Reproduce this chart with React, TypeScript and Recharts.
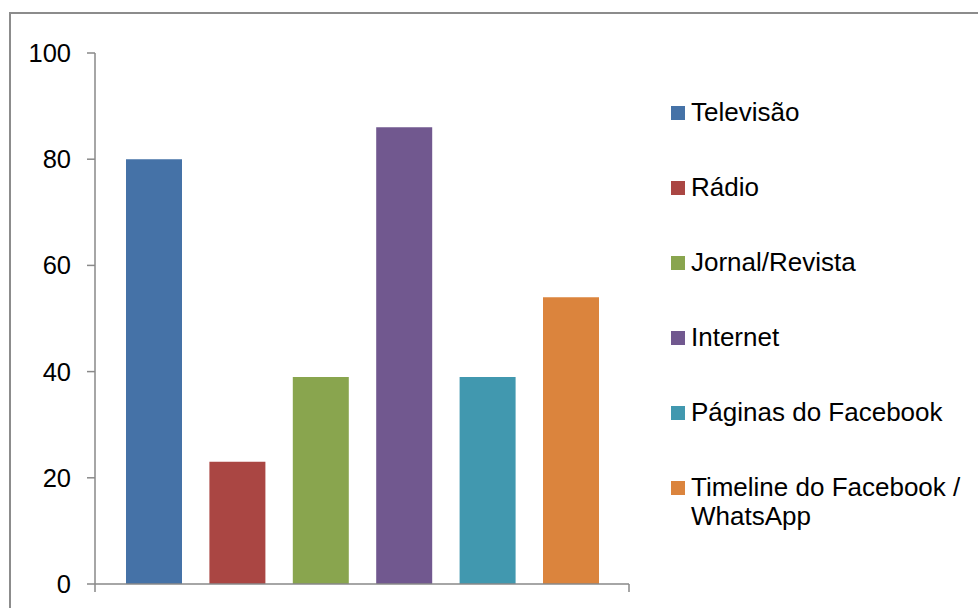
import { BarChart, Bar, XAxis, YAxis, Legend } from 'recharts';

const seriesNames = [
  'Televisão',
  'Rádio',
  'Jornal/Revista',
  'Internet',
  'Páginas do Facebook',
  'Timeline do Facebook / WhatsApp',
];
const seriesValues = [80, 23, 39, 86, 39, 54];
const seriesColors = ['#4572A7', '#AA4643', '#89A54E', '#71588F', '#4198AF', '#DB843D'];
const yTicks = [0, 20, 40, 60, 80, 100];

const row: Record<string, string | number> = { name: '' };
seriesNames.forEach((_, i) => {
  row[`s${i}`] = seriesValues[i];
});
const chartData = [row];

const axisColor = '#898989';
const font = '"Liberation Sans", Arial, sans-serif';

// Excel-style marks at both ends of the single category band
function EdgeTicks(props: any) {
  const { x, y, width } = props;
  const half = (Number(width) || 534) / 2;
  return (
    <g>
      <line x1={x - half} x2={x - half} y1={y} y2={y + 8} stroke={axisColor} strokeWidth={1.5} />
      <line x1={x + half} x2={x + half} y1={y} y2={y + 8} stroke={axisColor} strokeWidth={1.5} />
    </g>
  );
}

function renderLegend(props: any) {
  // keep the series order, not the legend's alphabetical sort
  const payload = [...(props.payload || [])].sort(
    (a: any, b: any) => seriesNames.indexOf(a.value) - seriesNames.indexOf(b.value),
  );
  return (
    <div style={{ fontFamily: font, fontSize: 26, color: '#000' }}>
      {payload.map((entry: any, i: number) => (
        <div
          key={i}
          style={{ display: 'flex', alignItems: 'flex-start', lineHeight: '29px', marginBottom: 46 }}
        >
          <span
            style={{
              width: 14,
              height: 14,
              marginTop: 8,
              marginRight: 6,
              flex: 'none',
              background: entry.color,
            }}
          />
          <span style={{ maxWidth: 285 }}>{entry.value}</span>
        </div>
      ))}
    </div>
  );
}

export default function App() {
  return (
    <div
      style={{
        position: 'fixed',
        left: 0,
        top: 0,
        width: 978,
        height: 608,
        overflow: 'hidden',
        background: '#fff',
      }}
    >
      <div
        style={{
          position: 'absolute',
          left: 9,
          top: 12,
          width: 1100,
          height: 800,
          border: '2px solid #8c8c8c',
        }}
      />
      <div style={{ position: 'absolute', left: 0, top: 0 }}>
        <BarChart
          width={978}
          height={608}
          data={chartData}
          margin={{ top: 53, right: 349, bottom: 16, left: 0 }}
          barSize={56}
          barGap={27.4}
        >
          <XAxis
            dataKey="name"
            height={8}
            interval={0}
            axisLine={{ stroke: axisColor, strokeWidth: 1.5 }}
            tickLine={false}
            tickSize={0}
            tickMargin={0}
            tick={<EdgeTicks />}
          />
          <YAxis
            width={95}
            domain={[0, 100]}
            ticks={yTicks}
            interval={0}
            axisLine={{ stroke: axisColor, strokeWidth: 1.5 }}
            tickLine={{ stroke: axisColor, strokeWidth: 1.5 }}
            tickSize={8}
            tickMargin={16}
            tick={{ fill: '#000', fontSize: 25.5, fontFamily: font }}
          />
          <Legend
            layout="vertical"
            align="center"
            verticalAlign="middle"
            wrapperStyle={{ left: 671, top: 98, width: 300, height: 'auto' }}
            content={renderLegend}
          />
          {seriesNames.map((name, i) => (
            <Bar
              key={name}
              dataKey={`s${i}`}
              name={name}
              fill={seriesColors[i]}
              isAnimationActive={false}
            />
          ))}
        </BarChart>
      </div>
    </div>
  );
}
